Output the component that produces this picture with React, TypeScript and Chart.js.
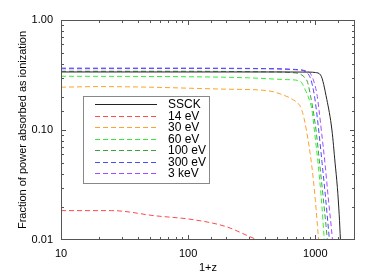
import React, { useEffect, useRef } from 'react';
import { Chart, registerables } from 'chart.js';

Chart.register(...registerables);

const seriesLabels = ['SSCK', '14 eV', '30 eV', '60 eV', '100 eV', '300 eV', '3 keV'];
const seriesColors = ['#222222', '#ff4a4a', '#ffa030', '#33ee33', '#3f9f3f', '#4a4aff', '#a64aff'];

const ssckZ = [10, 500, 900, 1000, 1100, 1230, 1350, 1430, 1490, 1540, 1575, 1610];
const ssckF = [0.337, 0.337, 0.336, 0.333, 0.316, 0.19, 0.1, 0.05, 0.03, 0.017, 0.01, 0.006];

const ev14Z = [10, 25, 55, 110, 200, 290, 347, 400];
const ev14F = [0.0185, 0.0185, 0.0166, 0.0153, 0.0132, 0.011, 0.01, 0.0088];

const ev30Z = [10, 20, 50, 100, 200, 417, 560, 676, 740, 783, 850, 940, 1000, 1060, 1100];
const ev30F = [0.245, 0.248, 0.245, 0.24, 0.235, 0.228, 0.208, 0.187, 0.172, 0.152, 0.1, 0.046, 0.023, 0.01, 0.006];

const ev60Z = [10, 100, 300, 600, 760, 834, 880, 940, 982, 1050, 1110, 1177, 1220];
const ev60F = [0.308, 0.305, 0.298, 0.287, 0.278, 0.231, 0.2, 0.152, 0.1, 0.05, 0.025, 0.01, 0.006];

const ev100Z = [10, 100, 400, 700, 800, 870, 920, 970, 1012, 1080, 1150, 1243, 1290];
const ev100F = [0.342, 0.342, 0.338, 0.33, 0.31, 0.27, 0.2, 0.14, 0.1, 0.05, 0.025, 0.01, 0.006];

const ev300Z = [10, 100, 400, 700, 850, 920, 980, 1020, 1062, 1130, 1200, 1290, 1340];
const ev300F = [0.365, 0.365, 0.362, 0.355, 0.335, 0.29, 0.21, 0.15, 0.1, 0.05, 0.025, 0.01, 0.006];

const kev3Z = [10, 100, 400, 700, 880, 960, 1030, 1070, 1114, 1190, 1260, 1363, 1410];
const kev3F = [0.36, 0.362, 0.36, 0.353, 0.34, 0.29, 0.21, 0.15, 0.1, 0.05, 0.025, 0.01, 0.006];

const xTickLabels = ['10', '100', '1000'];
const yTickLabels = ['0.01', '0.10', '1.00'];

const FONT = '"Liberation Sans", Arial, Helvetica, sans-serif';

function pts(z: number[], f: number[]) {
  return z.map((v, i) => ({ x: v, y: f[i] }));
}

const allZ = [ssckZ, ev14Z, ev30Z, ev60Z, ev100Z, ev300Z, kev3Z];
const allF = [ssckF, ev14F, ev30F, ev60F, ev100F, ev300F, kev3F];

function isDecade(v: number) {
  const l = Math.log10(v);
  return Math.abs(l - Math.round(l)) < 1e-6;
}

const boxTicksPlugin = {
  id: 'boxTicks',
  afterDatasetsDraw(chart: any) {
    const { ctx, chartArea } = chart;
    const { left, right, top, bottom } = chartArea;
    const xs = chart.scales.x;
    const ys = chart.scales.y;
    ctx.save();
    ctx.strokeStyle = '#555555';
    ctx.lineWidth = 1;
    ctx.setLineDash([]);
    ctx.strokeRect(left + 0.5, top + 0.5, right - left - 1, bottom - top - 1);
    ctx.beginPath();
    xs.ticks.forEach((t: any) => {
      const px = Math.round(xs.getPixelForValue(t.value)) + 0.5;
      if (px <= left + 1 || px >= right - 1) return;
      const len = isDecade(t.value) ? 5 : 3;
      ctx.moveTo(px, bottom);
      ctx.lineTo(px, bottom - len);
      ctx.moveTo(px, top);
      ctx.lineTo(px, top + len);
    });
    ys.ticks.forEach((t: any) => {
      const py = Math.round(ys.getPixelForValue(t.value)) + 0.5;
      if (py <= top + 1 || py >= bottom - 1) return;
      const len = isDecade(t.value) ? 5 : 3;
      ctx.moveTo(left, py);
      ctx.lineTo(left + len, py);
      ctx.moveTo(right, py);
      ctx.lineTo(right - len, py);
    });
    ctx.stroke();
    ctx.restore();
  },
};

const legendPlugin = {
  id: 'innerLegend',
  afterDraw(chart: any) {
    const { ctx } = chart;
    ctx.save();
    ctx.fillStyle = '#ffffff';
    ctx.fillRect(83, 96, 127, 88);
    ctx.strokeStyle = '#888888';
    ctx.lineWidth = 1;
    ctx.setLineDash([]);
    ctx.strokeRect(83.5, 96.5, 126, 87);
    ctx.font = '12px ' + FONT;
    ctx.textBaseline = 'middle';
    ctx.textAlign = 'left';
    chart.data.datasets.forEach((ds: any, i: number) => {
      const y = Math.round(104 + i * 11.5) + 0.5;
      ctx.strokeStyle = ds.borderColor;
      ctx.setLineDash(ds.borderDash || []);
      ctx.beginPath();
      ctx.moveTo(95, y);
      ctx.lineTo(157, y);
      ctx.stroke();
      ctx.fillStyle = '#000000';
      ctx.fillText(ds.label, 168, y);
    });
    ctx.restore();
  },
};

export default function App() {
  const ref = useRef<HTMLCanvasElement | null>(null);
  useEffect(() => {
    if (!ref.current) return;
    const datasets = seriesLabels.map((label, i) => ({
      label,
      data: pts(allZ[i], allF[i]),
      borderColor: seriesColors[i],
      backgroundColor: seriesColors[i],
      borderWidth: 1,
      borderDash: i === 0 ? [] : [5, 3],
      pointRadius: 0,
      cubicInterpolationMode: 'monotone' as const,
      fill: false,
    }));
    const chart = new Chart(ref.current, {
      type: 'line',
      data: { datasets },
      plugins: [boxTicksPlugin, legendPlugin],
      options: {
        animation: false,
        responsive: false,
        events: [],
        layout: { padding: { top: 20, right: 19, left: 0, bottom: 0 } },
        plugins: { legend: { display: false }, tooltip: { enabled: false } },
        scales: {
          x: {
            type: 'logarithmic',
            min: 10,
            max: 2050,
            grid: { display: false, drawTicks: false },
            border: { display: false },
            ticks: {
              autoSkip: false,
              maxRotation: 0,
              padding: 7,
              color: '#000000',
              font: { family: FONT, size: 11 },
              callback: (v: any) => {
                const s = String(Math.round(Number(v)));
                return isDecade(Number(v)) && xTickLabels.includes(s) ? s : '';
              },
            },
            title: {
              display: true,
              text: '1+z',
              color: '#000000',
              font: { family: FONT, size: 11 },
              padding: { top: 0, bottom: 5 },
            },
            afterFit: (s: any) => { s.height = 40; },
          },
          y: {
            type: 'logarithmic',
            min: 0.01,
            max: 1,
            grid: { display: false, drawTicks: false },
            border: { display: false },
            ticks: {
              autoSkip: false,
              padding: 8,
              color: '#000000',
              font: { family: FONT, size: 11 },
              callback: (v: any) => {
                const n = Number(v);
                if (!isDecade(n)) return '';
                const s = n.toFixed(2);
                return yTickLabels.includes(s) ? s : '';
              },
            },
            title: {
              display: true,
              text: 'Fraction of power absorbed as ionization',
              color: '#000000',
              font: { family: FONT, size: 11 },
              padding: { top: 16, bottom: 0 },
            },
            afterFit: (s: any) => { s.width = 61; },
          },
        },
      },
    });
    return () => chart.destroy();
  }, []);
  return (
    <div style={{ position: 'fixed', left: 0, top: 0, width: 374, height: 280, background: '#ffffff' }}>
      <canvas ref={ref} width={374} height={280} style={{ display: 'block' }} />
    </div>
  );
}
